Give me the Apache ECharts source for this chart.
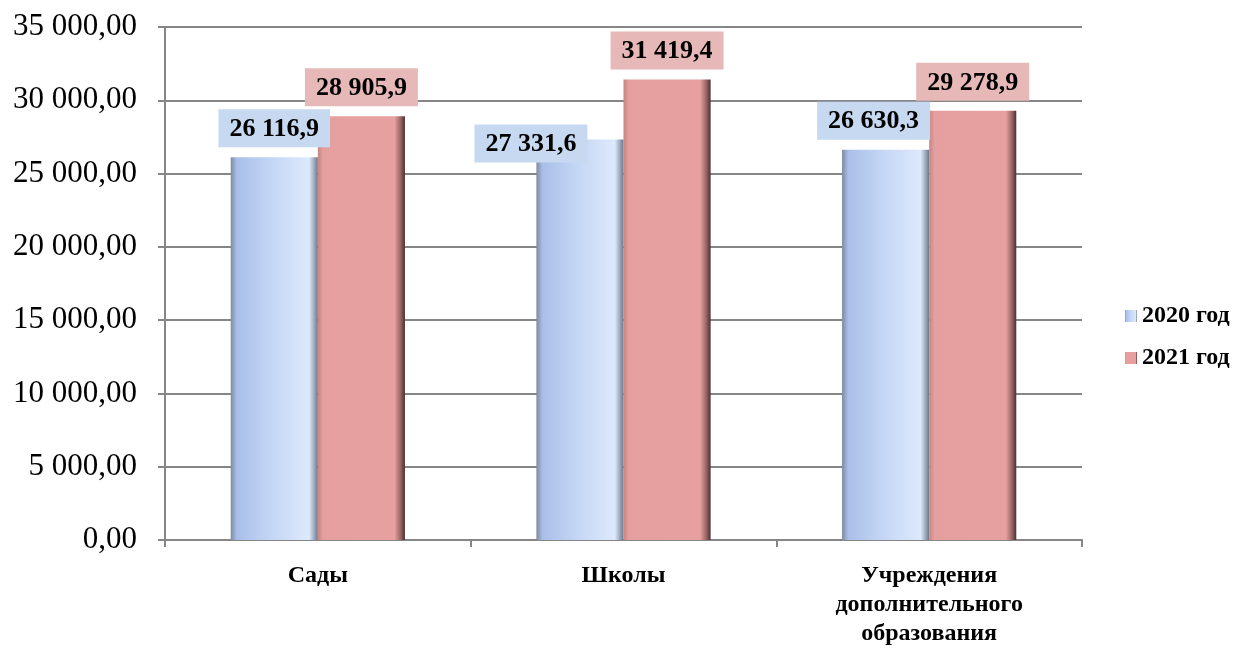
<!DOCTYPE html>
<html><head><meta charset="utf-8">
<script src="https://cdn.jsdelivr.net/npm/echarts@6/dist/echarts.min.js"></script>
<style>html,body{margin:0;padding:0;background:#fff}#c{width:1245px;height:648px}</style>
</head><body><div id="c"></div>
<script>
const categories = ['Сады', 'Школы', 'Учреждения\nдополнительного\nобразования'];
const series2020 = [26116.9, 27331.6, 26630.3];
const series2021 = [28905.9, 31419.4, 29278.9];
const seriesNames = ['2020 год', '2021 год'];

function fmtNum(v, dec) {
  const s = v.toFixed(dec);
  const parts = s.split('.');
  const intp = parts[0].replace(/\B(?=(\d{3})+(?!\d))/g, ' ');
  return parts.length > 1 ? intp + ',' + parts[1] : intp;
}

const font = '"Liberation Serif", "Times New Roman", serif';
const chart = echarts.init(document.getElementById('c'));

const blueGrad = new echarts.graphic.LinearGradient(0, 0, 1, 0, [
  {offset: 0, color: '#7e8aa0'}, {offset: 0.07, color: '#a9bfe8'},
  {offset: 0.5, color: '#c6d8f6'}, {offset: 0.9, color: '#dde9fc'},
  {offset: 0.96, color: '#9aa6ba'}, {offset: 1, color: '#6d7686'}
]);
const redGrad = new echarts.graphic.LinearGradient(0, 0, 1, 0, [
  {offset: 0, color: '#c48584'}, {offset: 0.06, color: '#e49f9e'},
  {offset: 0.88, color: '#e5a09f'}, {offset: 0.95, color: '#9a6565'},
  {offset: 1, color: '#4a3030'}
]);

const labelBase = {
  show: true, position: 'top', distance: 10,
  fontFamily: font, fontWeight: 'bold', fontSize: 26, color: '#000',
  padding: [7, 11, 5, 11],
  formatter: p => fmtNum(p.value, 1)
};

const blueData = series2020.map((v, i) => {
  const d = {value: v};
  if (i === 1) d.label = {offset: [-49, 33]};
  if (i === 2) d.label = {offset: [-12, 0]};
  return d;
});

chart.setOption({
  animation: false,
  grid: {left: 165, right: 163, top: 27, bottom: 103},
  legend: {
    orient: 'vertical', left: 1120, top: 299, itemGap: 18,
    itemWidth: 12, itemHeight: 12, icon: 'rect',
    textStyle: {fontFamily: font, fontWeight: 'bold', fontSize: 24, color: '#000'},
    data: seriesNames
  },
  xAxis: {
    type: 'category', data: categories,
    axisLine: {lineStyle: {color: '#868686', width: 2}},
    axisTick: {show: true, length: 7, lineStyle: {color: '#868686', width: 2}},
    axisLabel: {fontFamily: font, fontWeight: 'bold', fontSize: 24, color: '#000', margin: 21, lineHeight: 29}
  },
  yAxis: {
    type: 'value', min: 0, max: 35000, interval: 5000,
    axisLine: {show: true, lineStyle: {color: '#868686', width: 2}},
    axisTick: {show: true, inside: false, length: 7, lineStyle: {color: '#868686', width: 2}},
    splitLine: {lineStyle: {color: '#868686', width: 2}},
    axisLabel: {fontFamily: font, fontSize: 31, color: '#000', margin: 28, formatter: v => fmtNum(v, 2)}
  },
  series: [
    {name: seriesNames[0], type: 'bar', data: blueData, barGap: '0%', barCategoryGap: '43%',
     itemStyle: {color: blueGrad},
     label: Object.assign({}, labelBase, {backgroundColor: '#c6d9f1'})},
    {name: seriesNames[1], type: 'bar', data: series2021, barGap: '0%', barCategoryGap: '43%',
     itemStyle: {color: redGrad},
     label: Object.assign({}, labelBase, {backgroundColor: '#e6b9b8'})}
  ]
});
</script></body></html>
